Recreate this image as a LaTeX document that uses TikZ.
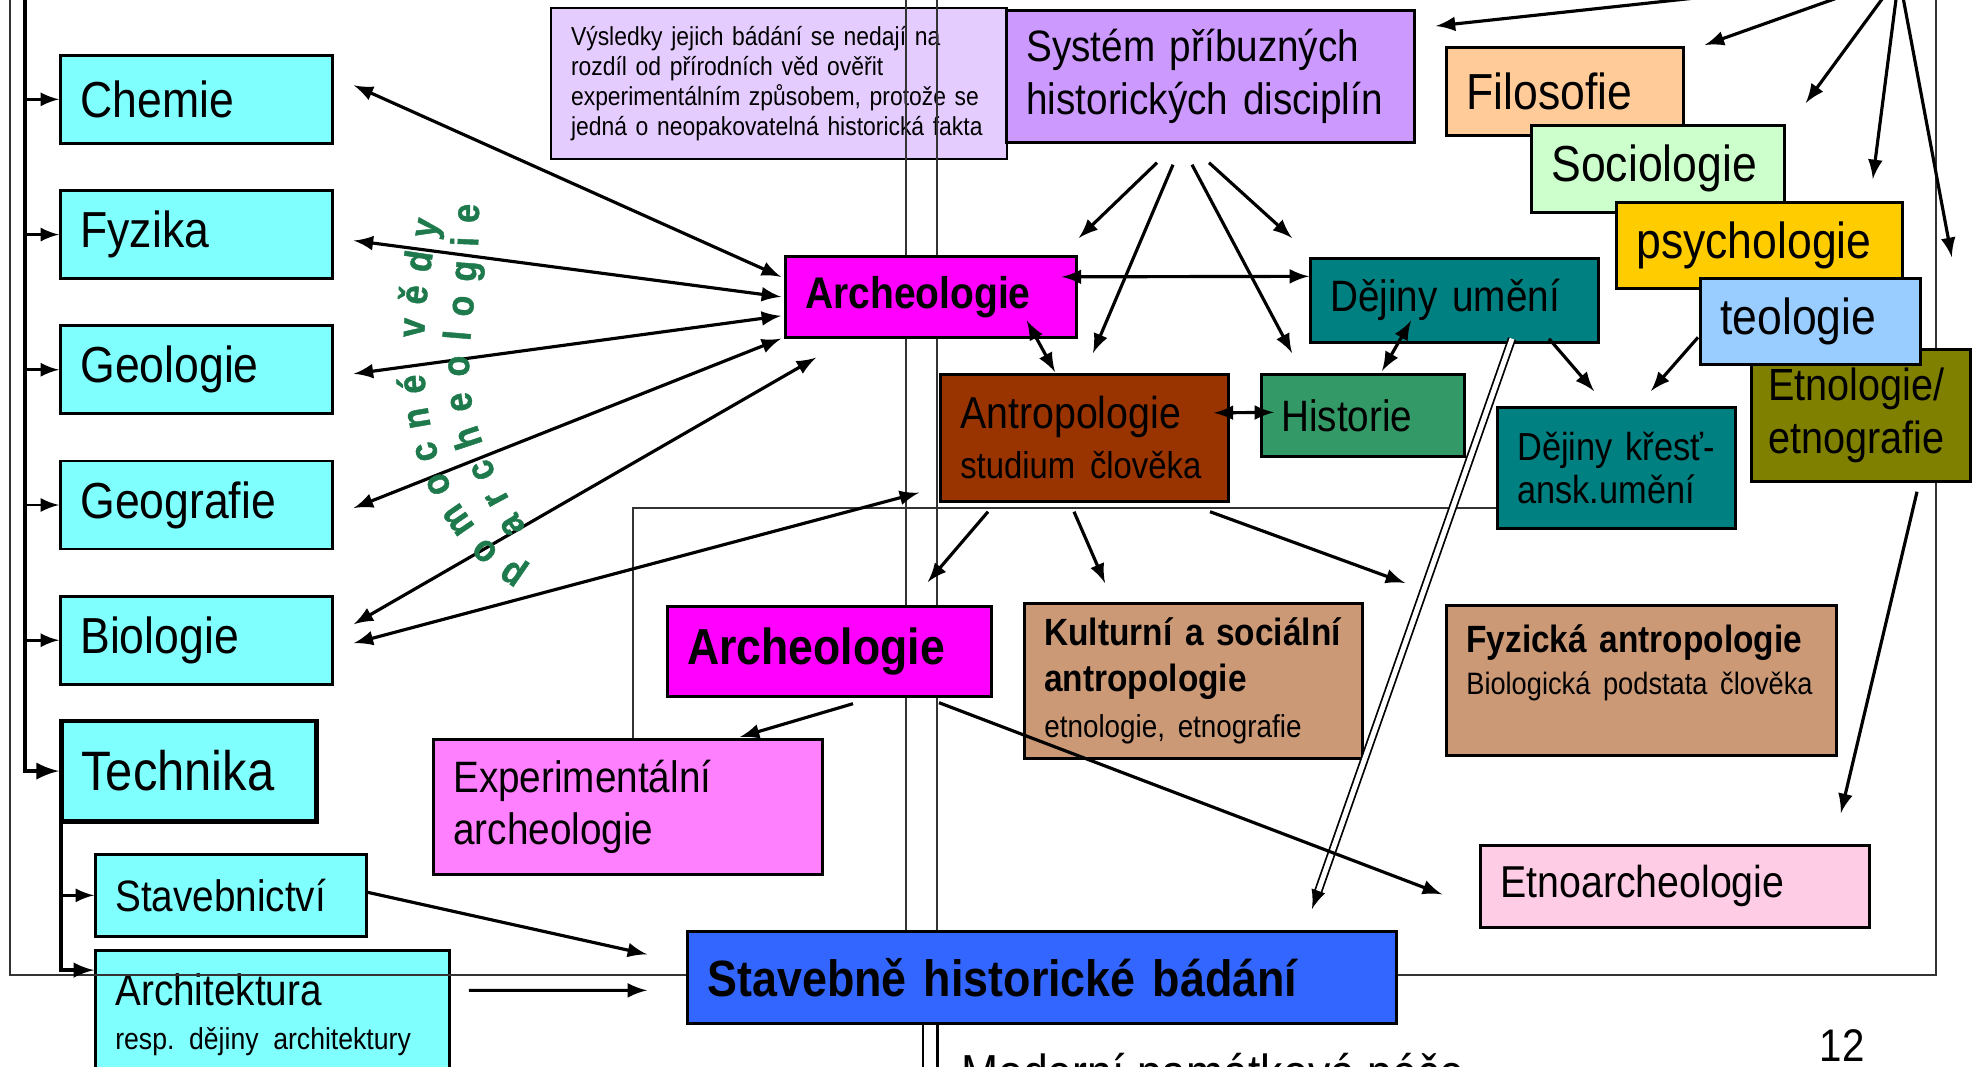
\documentclass[tikz,border=0pt]{standalone}
\usepackage{fontspec}
\setmainfont{Liberation Sans}[FakeStretch=0.88]
\newfontfamily\waFamily{Liberation Sans}[FakeStretch=0.88, BoldFeatures={FakeBold=1.2}]
\usepackage{tikz}
\usetikzlibrary{positioning,arrows,decorations.text}

\definecolor{cyanFill}{HTML}{80FFFF}
\definecolor{noteFill}{HTML}{E5CCFF}
\definecolor{systemFill}{HTML}{CC99FF}
\definecolor{filoFill}{HTML}{FFCC99}
\definecolor{socioFill}{HTML}{CCFFCC}
\definecolor{psychoFill}{HTML}{FFCC00}
\definecolor{teoFill}{HTML}{99CCFF}
\definecolor{etnoFill}{HTML}{808000}
\definecolor{tealFill}{HTML}{008080}
\definecolor{histFill}{HTML}{339966}
\definecolor{archFill}{HTML}{FF00FF}
\definecolor{antropFill}{HTML}{993300}
\definecolor{tanFill}{HTML}{CC9977}
\definecolor{pinkFill}{HTML}{FFCCE5}
\definecolor{blueFill}{HTML}{3366FF}
\definecolor{expFill}{HTML}{FF80FF}
\definecolor{waGreen}{RGB}{30,122,76}

\hyphenpenalty=10000
\exhyphenpenalty=10000

\begin{document}
\begin{tikzpicture}[x=0.01cm, y=-0.01cm, line width=0.9pt, >=latex,
    discBox/.style={draw=black, line width=0.75pt, anchor=north west, align=left, inner xsep=0.2cm, inner ysep=0pt},
    fontL/.style={font=\fontsize{14.4}{17}\selectfont},
    fontM/.style={font=\fontsize{12.5}{15}\selectfont},
    thinLine/.style={line width=0.5pt, draw=black!80},
    spineLine/.style={line width=1.2pt},
    dblArrow/.style={double, double distance=1.4pt, line width=0.5pt, ->},
    waText/.style={decorate, decoration={text along path, text={#1}, text align=fit to path, text color=waGreen}}]
    \useasboundingbox (0,0) rectangle (1973,1067);

    \node[discBox, fill=cyanFill, fontL, text width=2.32cm, minimum height=0.88cm] (chemie) at (59,54) {Chemie};
    \node[discBox, fill=cyanFill, fontL, text width=2.32cm, minimum height=0.88cm, below=0.445cm of chemie] (fyzika) {Fyzika};
    \node[discBox, fill=cyanFill, fontL, text width=2.32cm, minimum height=0.88cm, below=0.445cm of fyzika] (geologie) {Geologie};
    \node[discBox, fill=cyanFill, fontL, text width=2.32cm, minimum height=0.88cm, below=0.445cm of geologie] (geografie) {Geografie};
    \node[discBox, fill=cyanFill, fontL, text width=2.32cm, minimum height=0.88cm, below=0.445cm of geografie] (biologie) {Biologie};
    \node[discBox, fill=cyanFill, font=\fontsize{15.8}{18}\selectfont, line width=1.4pt, text width=2.15cm, minimum height=1cm, below=0.33cm of biologie.south west, anchor=north west] (technika) {Technika};
    \node[discBox, fill=cyanFill, fontM, text width=2.31cm, minimum height=0.82cm] (stavebnictvi) at (94,853) {Stavebnictví};
    \node[discBox, fill=cyanFill, font=\fontsize{12.5}{12.5}\selectfont, text width=3.14cm, minimum height=1.28cm] (architektura) at (94,949) {Architektura\\{\fontsize{8.6}{11}\selectfont resp.\ dějiny~architektury}};

    \node[discBox, fill=noteFill, line width=0.6pt, font=\fontsize{7.4}{8.5}\selectfont, text width=4.16cm, minimum height=1.51cm] (note) at (550,7) {Výsledky jejich bádání se nedají na\\rozdíl od přírodních věd ověřit\\experimentálním způsobem, protože se\\jedná o neopakovatelná historická fakta};

    \draw[thinLine] (10,-10) -- (10,975) -- (1936,975) -- (1936,-10);
    \draw[thinLine] (906,-10) -- (906,930);
    \draw[thinLine] (937,-10) -- (937,930);
    \draw[thinLine] (1496,508) -- (633,508) -- (633,738);

    \node[discBox, fill=systemFill, fontM, text width=3.68cm, minimum height=1.32cm] (system) at (1005,9) {Systém příbuzných\\historických disciplín};
    \node[discBox, fill=filoFill, fontL, text width=1.97cm, minimum height=0.88cm] (filosofie) at (1445,46) {Filosofie};
    \node[discBox, fill=socioFill, fontL, text width=2.13cm, minimum height=0.87cm] (sociologie) at (1530,124) {Sociologie};
    \node[discBox, fill=psychoFill, fontL, text width=2.46cm, minimum height=0.86cm] (psychologie) at (1615,201) {psychologie};
    \node[discBox, fill=etnoFill, font=\fontsize{12.8}{15}\selectfont, inner xsep=0.17cm, text width=1.85cm, minimum height=1.32cm] (etnologie) at (1750,348) {Etnologie/\\etnografie};
    \node[discBox, fill=teoFill, fontL, text width=1.8cm, minimum height=0.86cm] (teologie) at (1699,277) {teologie};

    \node[discBox, fill=archFill, font=\fontsize{12.6}{15}\selectfont\bfseries, text width=2.51cm, minimum height=0.81cm] (arch1) at (784,255) {Archeologie};
    \node[discBox, fill=tealFill, fontM, text width=2.48cm, minimum height=0.84cm] (dejiny) at (1309,257) {Dějiny umění};
    \node[discBox, fill=antropFill, font=\fontsize{12.7}{14.3}\selectfont, text width=2.48cm, minimum height=1.27cm] (antrop) at (939,373) {Antropologie\\{\fontsize{10.6}{14.3}\selectfont studium~člověka}};
    \node[discBox, fill=histFill, fontM, text width=1.63cm, minimum height=0.82cm] (historie) at (1260,373) {Historie};
    \node[discBox, fill=tealFill, font=\fontsize{11.1}{12.2}\selectfont, text width=1.98cm, minimum height=1.21cm] (krest) at (1496,406) {Dějiny~křesť-\\ansk.umění};

    \node[discBox, fill=archFill, font=\fontsize{14.4}{17}\selectfont\bfseries, text width=2.84cm, minimum height=0.9cm] (arch2) at (666,605) {Archeologie};
    \node[discBox, fill=tanFill, font=\fontsize{10.8}{13}\selectfont\bfseries, text width=2.98cm, minimum height=1.55cm] (kulturni) at (1023,602) {Kulturní~a~sociální\\antropologie\\{\mdseries\fontsize{9}{11}\selectfont etnologie,~etnografie}};
    \node[discBox, fill=tanFill, font=\fontsize{10.8}{11.8}\selectfont\bfseries, text width=3.5cm, minimum height=1.5cm] (fyzicka) at (1445,604) {Fyzická~antropologie\\{\mdseries\fontsize{8.8}{11}\selectfont Biologická~podstata~člověka}\\\mbox{}};
    \node[discBox, fill=expFill, fontM, text width=3.49cm, minimum height=1.35cm] (experiment) at (432,738) {Experimentální\\archeologie};
    \node[discBox, fill=pinkFill, font=\fontsize{12.7}{15}\selectfont, text width=3.49cm, minimum height=0.82cm] (etnoarch) at (1479,844) {Etnoarcheologie};
    \node[discBox, fill=blueFill, font=\fontsize{14.5}{17}\selectfont\bfseries, text width=6.69cm, minimum height=0.92cm] (stavebne) at (686,930) {Stavebně historické bádání};

    \coordinate (spineTop) at (25,-10);
    \draw[spineLine, ->] (spineTop) |- (technika.west);
    \draw[line width=0.8pt, ->] (spineTop |- chemie.west) -- (chemie.west);
    \draw[line width=0.8pt, ->] (spineTop |- fyzika.west) -- (fyzika.west);
    \draw[line width=0.8pt, ->] (spineTop |- geologie.west) -- (geologie.west);
    \draw[line width=0.8pt, ->] (spineTop |- geografie.west) -- (geografie.west);
    \draw[line width=0.8pt, ->] (spineTop |- biologie.west) -- (biologie.west);
    \draw[line width=1pt, ->] ([xshift=0.02cm]technika.south west) |- ([yshift=-6pt]architektura.north west);
    \draw[line width=0.8pt, ->] ([xshift=0.02cm]technika.south west |- stavebnictvi.west) -- (stavebnictvi.west);

    \draw[<->] ([shift={(20,-14)}]chemie.east) -- ([shift={(-3,-20)}]arch1.west);
    \draw[<->] ([shift={(20,6)}]fyzika.east) -- ([shift={(-3,0)}]arch1.west);
    \draw[<->] ([shift={(20,4)}]geologie.east) -- ([shift={(-3,19)}]arch1.west);
    \draw[<->] ([shift={(20,3)}]geografie.east) -- ([shift={(-3,0)}]arch1.south west);
    \draw[<->] ([shift={(20,-16)}]biologie.east) -- ([shift={(32,19)}]arch1.south west);
    \draw[<->] ([shift={(20,3)}]biologie.east) -- ([shift={(-20,-10)}]antrop.south west);

    \draw[<->] ([shift={(-16,-20)}]arch1.east) -- ([shift={(0,-24)}]dejiny.west);
    \draw[<->] ([shift={(-51,-18)}]arch1.south east) -- ([shift={(116,-1)}]antrop.north west);
    \draw[->] ([shift={(152,19)}]system.south west) -- ([shift={(1,-17)}]arch1.north east);
    \draw[->] ([shift={(168,21)}]system.south west) -- ([shift={(154,-20)}]antrop.north west);
    \draw[->] ([shift={(187,21)}]system.south west) -- ([shift={(32,-20)}]historie.north west);
    \draw[->] ([shift={(204,19)}]system.south west) -- ([shift={(-17,-19)}]dejiny.north west);
    \draw[<->] ([shift={(102,-23)}]dejiny.south west) -- ([shift={(122,-2)}]historie.north west);
    \draw[<->] ([shift={(-16,-25)}]antrop.east) -- ([shift={(14,-3)}]historie.west);
    \draw[->] ([shift={(240,-5)}]dejiny.south west) -- ([shift={(98,-15)}]krest.north west);
    \draw[->] ([shift={(-1,16)}]teologie.west) -- ([shift={(155,-15)}]krest.north west);
    \draw[dblArrow] ([shift={(203,-5)}]dejiny.south west) -- ([shift={(626,-21)}]stavebne.north west);
    \draw[->] ([shift={(167,9)}]etnologie.south west) -- ([shift={(-30,-31)}]etnoarch.north east);

    \draw[->] ([shift={(49,9)}]antrop.south west) -- ([shift={(-65,-23)}]arch2.north east);
    \draw[->] ([shift={(135,9)}]antrop.south west) -- ([shift={(82,-19)}]kulturni.north west);
    \draw[->] ([shift={(271,9)}]antrop.south west) -- ([shift={(-40,-21)}]fyzicka.north west);
    \draw[->] ([shift={(187,6)}]arch2.south west) -- ([shift={(308,-1)}]experiment.north west);
    \draw[->] ([shift={(273,5)}]arch2.south west) -- ([shift={(-37,8)}]etnoarch.west);
    \draw[->] ([shift={(0,-3)}]stavebnictvi.east) -- ([shift={(-39,-23)}]stavebne.west);
    \draw[->] ([shift={(18,-24)}]architektura.east) -- ([shift={(-39,13)}]stavebne.west);

    \coordinate (topSrc) at (1899,-24);
    \draw[->] (topSrc) -- ([shift={(20,17)}]system.north east);
    \draw[->] (topSrc) -- ([shift={(20,-1)}]filosofie.north east);
    \draw[->] (topSrc) -- ([shift={(20,-21)}]sociologie.north east);
    \draw[->] (topSrc) -- ([shift={(-31,-22)}]psychologie.north east);
    \draw[->] (topSrc) -- ([shift={(30,-20)}]teologie.north east);

    \begin{scope}
        \fontsize{11}{11}\waFamily\bfseries
        \path[waText={pomocné vědy}] (527,571) .. controls (403,494) and (416,333) .. (439,221);
        \path[waText={archeologie}] (526,528) .. controls (437,380) and (479,368) .. (479,204);
    \end{scope}

    \node[font=\fontsize{14.4}{17}\selectfont, anchor=base west] (pamatka) at (948,1090) {Moderní památková péče};
    \draw[double, double distance=3.6pt, line width=0.6pt, ->] ([xshift=2.44cm]stavebne.south west) |- (pamatka.west);
    \node[font=\fontsize{13}{13}\selectfont] (pageNum) at (1842,1046) {12};
\end{tikzpicture}
\end{document}
